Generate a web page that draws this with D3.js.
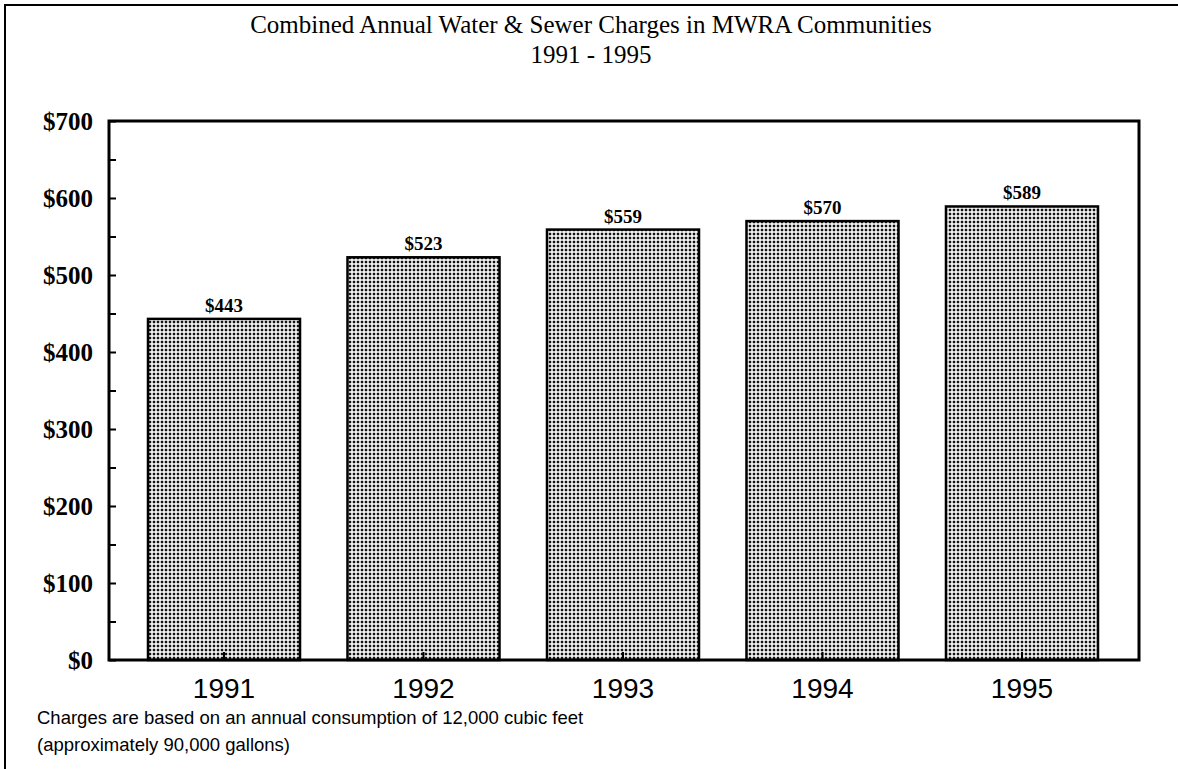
<!DOCTYPE html>
<html>
<head>
<meta charset="utf-8">
<script src="https://cdn.jsdelivr.net/npm/d3@7"></script>
<style>
  html, body { margin: 0; background: #fff; overflow: hidden; }
  svg { display: block; }
</style>
</head>
<body>
<div id="chart"></div>
<script>
// data
const years = ['1991', '1992', '1993', '1994', '1995'];
const charges = [443, 523, 559, 570, 589];
const yTicks = [0, 100, 200, 300, 400, 500, 600, 700];
const titleLines = ['Combined Annual Water & Sewer Charges in MWRA Communities', '1991 - 1995'];
const noteLines = ['Charges are based on an annual consumption of 12,000 cubic feet',
  '(approximately 90,000 gallons)'];

const width = 1178, height = 769;
const plot = {left: 109, right: 1139, top: 121, bottom: 660};
const serif = '"Liberation Serif", "Times New Roman", serif';
const sans = '"Liberation Sans", Arial, sans-serif';

let svg = d3.select('#chart').append('svg')
  .attr('width', width)
  .attr('height', height);

// dotted fill like the old printout
let pat = svg.append('defs').append('pattern')
  .attr('id', 'dots')
  .attr('patternUnits', 'userSpaceOnUse')
  .attr('width', 4).attr('height', 4);
pat.append('rect').attr('width', 4).attr('height', 4).attr('fill', '#fff');
pat.append('rect').attr('x', 0.75).attr('y', 0.75).attr('width', 2.5).attr('height', 2.5).attr('fill', '#111');

// outer frame (only top and left show in the scan)
svg.append('path')
  .attr('d', `M5,${height} V5 H${width}`)
  .attr('fill', 'none')
  .attr('stroke', '#000')
  .attr('stroke-width', 2);

let y = d3.scaleLinear().domain([0, 700]).range([plot.bottom, plot.top]);
let x = d3.scaleBand().domain(years)
  .range([148, 1098])
  .paddingInner(0.238)
  .paddingOuter(0);

// title
svg.append('g').selectAll('text')
  .data(titleLines)
  .join('text')
  .attr('x', 591)
  .attr('y', (d, i) => 33 + i * 30)
  .attr('text-anchor', 'middle')
  .style('font-family', serif)
  .style('font-size', '25px')
  .text(d => d);

// bars
svg.append('g').selectAll('rect')
  .data(charges)
  .join('rect')
  .attr('x', (d, i) => x(years[i]))
  .attr('y', d => y(d))
  .attr('width', x.bandwidth())
  .attr('height', d => y(0) - y(d))
  .attr('fill', 'url(#dots)')
  .attr('stroke', '#000')
  .attr('stroke-width', 2.5);

// value labels
svg.append('g').selectAll('text')
  .data(charges)
  .join('text')
  .attr('x', (d, i) => x(years[i]) + x.bandwidth() / 2)
  .attr('y', d => y(d) - 7)
  .attr('text-anchor', 'middle')
  .style('font-family', serif)
  .style('font-size', '19px')
  .style('font-weight', 'bold')
  .text(d => '$' + d);

// plot box
svg.append('rect')
  .attr('x', plot.left).attr('y', plot.top)
  .attr('width', plot.right - plot.left)
  .attr('height', plot.bottom - plot.top)
  .attr('fill', 'none')
  .attr('stroke', '#000')
  .attr('stroke-width', 3);

// y axis: ticks point inward, minor every 50
let yAxis = d3.axisRight(y)
  .tickValues(d3.range(0, 701, 50))
  .tickSize(7)
  .tickFormat('');
let yg = svg.append('g')
  .attr('transform', `translate(${plot.left},0)`)
  .call(yAxis);
yg.select('.domain').remove();
yg.selectAll('line').attr('stroke-width', 2);

svg.append('g').selectAll('text')
  .data(yTicks)
  .join('text')
  .attr('x', 93)
  .attr('y', d => y(d))
  .attr('dy', '0.35em')
  .attr('text-anchor', 'end')
  .style('font-family', serif)
  .style('font-size', '25px')
  .style('font-weight', 'bold')
  .text(d => '$' + d);

// x axis: small inward ticks at bar centres, labels below
let xAxis = d3.axisTop(x).tickSize(8).tickFormat('');
let xg = svg.append('g')
  .attr('transform', `translate(0,${plot.bottom})`)
  .call(xAxis);
xg.select('.domain').remove();
xg.selectAll('line').attr('stroke-width', 2);

svg.append('g').selectAll('text')
  .data(years)
  .join('text')
  .attr('x', d => x(d) + x.bandwidth() / 2)
  .attr('y', 698)
  .attr('text-anchor', 'middle')
  .style('font-family', sans)
  .style('font-size', '28px')
  .text(d => d);

// footnote
svg.append('g').selectAll('text')
  .data(noteLines)
  .join('text')
  .attr('x', 37)
  .attr('y', (d, i) => 724 + i * 27)
  .style('font-family', sans)
  .style('font-size', '18.5px')
  .text(d => d);
</script>
</body>
</html>
